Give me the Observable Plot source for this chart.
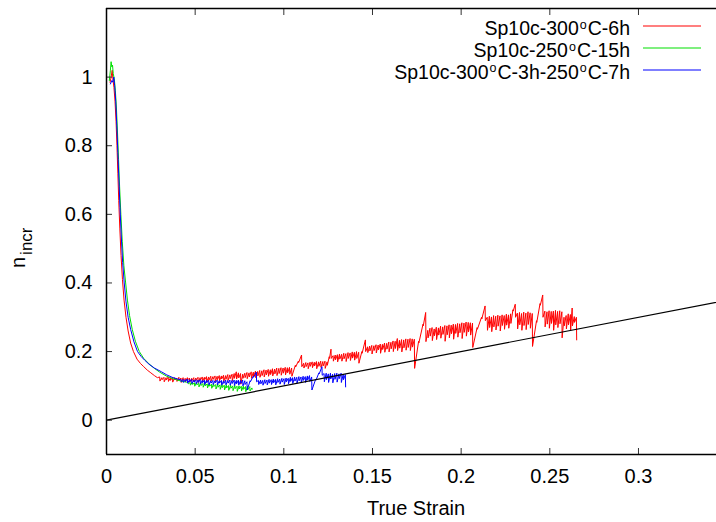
<!DOCTYPE html>
<html>
<head>
<meta charset="utf-8">
<script src="https://cdn.jsdelivr.net/npm/d3@7"></script>
<script src="https://cdn.jsdelivr.net/npm/@observablehq/plot@0.6"></script>
<style>
  html, body { margin: 0; padding: 0; background: white; overflow: hidden; }
  svg { display: block; }
</style>
</head>
<body>
<div id="chart"></div>
<script>
// ---- axes / ticks ----
const xDomain = [0, 0.344];
const yDomain = [-0.1, 1.2];
const xTicks = [0, 0.05, 0.1, 0.15, 0.2, 0.25, 0.3];
const xTickLabels = ["0", "0.05", "0.1", "0.15", "0.2", "0.25", "0.3"];
const yTicks = [0, 0.2, 0.4, 0.6, 0.8, 1];
const yTickLabels = ["0", "0.2", "0.4", "0.6", "0.8", "1"];
const xLabel = "True Strain";
const yLabelMain = "n";
const yLabelSub = "incr";

// ---- series labels (odd parts are superscripts) ----
const seriesLabels = [
  ["Sp10c-300", "o", "C-6h"],
  ["Sp10c-250", "o", "C-15h"],
  ["Sp10c-300", "o", "C-3h-250", "o", "C-7h"]
];
const seriesColors = ["#ff0000", "#00e000", "#0000ff"];

// ---- data ----
// smooth initial decay: [true strain, n_incr]
const redDecay = [
  [0.0020,0.985],[0.0026,1.00],[0.0032,1.02],[0.0036,0.995],[0.0042,0.97],[0.0048,0.93],[0.0054,0.87],
  [0.0059,0.80],[0.0064,0.72],[0.0069,0.64],[0.0075,0.56],[0.0082,0.48],[0.0090,0.41],[0.0099,0.35],
  [0.0110,0.30],[0.0122,0.26],[0.0136,0.225],[0.0152,0.20],[0.0172,0.178],[0.0192,0.165],[0.0210,0.156],
  [0.0230,0.146],[0.0250,0.138],[0.0270,0.130],[0.0287,0.124]
];
// serrated part: [true strain, n_incr before drop, n_incr after drop]
const redSerrated = [
  [0.0300,.126,.114],[0.0312,.124,.118],[0.0324,.125,.112],[0.0336,.124,.117],[0.0348,.126,.113],
  [0.0360,.123,.116],[0.0372,.125,.111],[0.0384,.124,.117],[0.0396,.123,.113],[0.0408,.125,.116],
  [0.0420,.123,.110],[0.0432,.124,.116],[0.0444,.122,.112],[0.0456,.124,.117],[0.0468,.123,.111],
  [0.0480,.122,.115],[0.0492,.124,.112],[0.0504,.123,.116],[0.0516,.125,.110],[0.0528,.124,.117],
  [0.0540,.126,.113],[0.0552,.125,.118],[0.0564,.127,.112],[0.0576,.126,.117],[0.0588,.128,.114],
  [0.0600,.127,.119],[0.0612,.129,.113],[0.0624,.128,.118],[0.0636,.130,.115],[0.0648,.129,.120],
  [0.0660,.131,.114],[0.0672,.130,.119],[0.0684,.133,.116],[0.0696,.132,.121],[0.0708,.134,.115],
  [0.0720,.136,.122],[0.0732,.141,.120],[0.0744,.138,.123],[0.0756,.136,.105],[0.0768,.134,.122],
  [0.0780,.137,.124],[0.0792,.139,.121],[0.0804,.138,.126],[0.0816,.141,.122],[0.0828,.140,.127],
  [0.0840,.143,.124],[0.0852,.142,.129],[0.0864,.145,.125],[0.0876,.144,.130],[0.0888,.147,.126],
  [0.0900,.146,.132],[0.0912,.148,.128],[0.0924,.147,.133],[0.0936,.150,.129],[0.0948,.149,.135],
  [0.0960,.152,.130],[0.0972,.151,.136],[0.0984,.153,.131],[0.0996,.152,.137],[0.1008,.154,.132],
  [0.1020,.153,.138],[0.1032,.154,.134],[0.1044,.152,.128],
  [0.1065,.160,.155],[0.1082,.172,.168],[0.1100,.190,.156],
  [0.1112,.166,.152],[0.1124,.168,.156],[0.1136,.167,.150],[0.1148,.169,.157],[0.1160,.170,.153],
  [0.1172,.169,.158],[0.1184,.171,.150],[0.1196,.170,.157],[0.1208,.172,.154],[0.1220,.171,.158],
  [0.1232,.172,.151],[0.1244,.170,.160],
  [0.1256,.185,.180],[0.1266,.207,.180],
  [0.1278,.188,.172],[0.1290,.190,.176],[0.1302,.191,.170],[0.1314,.193,.178],[0.1326,.192,.172],
  [0.1338,.195,.179],[0.1350,.194,.171],[0.1362,.197,.180],[0.1374,.196,.174],[0.1386,.199,.181],
  [0.1398,.198,.175],[0.1410,.200,.180],[0.1422,.198,.166],
  [0.1440,.200,.195],[0.1460,.234,.200],
  [0.1472,.214,.197],[0.1484,.216,.202],[0.1496,.218,.193],[0.1508,.217,.203],[0.1520,.220,.196],
  [0.1532,.219,.205],[0.1544,.222,.195],[0.1556,.221,.206],[0.1568,.225,.198],[0.1580,.224,.207],
  [0.1592,.228,.199],[0.1604,.227,.208],[0.1616,.231,.200],[0.1628,.230,.209],[0.1640,.238,.203],
  [0.1652,.233,.210],[0.1664,.235,.199],[0.1676,.234,.211],[0.1688,.237,.204],[0.1700,.236,.212],
  [0.1712,.238,.203],[0.1724,.237,.213],[0.1736,.236,.151],
  [0.1760,.230,.225],[0.1785,.280,.275],[0.1800,.314,.229],
  [0.1812,.262,.240],[0.1824,.268,.245],[0.1836,.270,.232],[0.1848,.266,.246],[0.1860,.271,.235],
  [0.1872,.269,.248],[0.1884,.274,.239],[0.1896,.272,.250],[0.1908,.276,.230],[0.1920,.275,.249],
  [0.1932,.278,.240],[0.1944,.277,.252],[0.1956,.280,.236],[0.1968,.279,.253],[0.1980,.282,.242],
  [0.1992,.281,.255],[0.2004,.284,.238],[0.2016,.283,.256],[0.2028,.286,.245],[0.2040,.285,.257],
  [0.2052,.284,.248],[0.2064,.283,.212],
  [0.2090,.270,.265],[0.2115,.300,.295],[0.2135,.333,.290],
  [0.2147,.300,.262],[0.2159,.303,.270],[0.2171,.301,.258],[0.2183,.305,.272],[0.2195,.303,.263],
  [0.2207,.306,.274],[0.2219,.304,.260],[0.2231,.307,.276],[0.2243,.305,.265],[0.2255,.309,.277],
  [0.2267,.307,.268],[0.2279,.310,.282],
  [0.2292,.322,.318],[0.2305,.338,.300],
  [0.2317,.312,.266],[0.2329,.314,.278],[0.2341,.311,.262],[0.2353,.315,.276],[0.2365,.312,.264],
  [0.2377,.316,.279],[0.2389,.313,.268],[0.2401,.311,.215],
  [0.2425,.290,.285],[0.2445,.340,.335],[0.2460,.365,.300],
  [0.2472,.318,.272],[0.2484,.316,.280],[0.2496,.319,.268],[0.2508,.317,.282],[0.2520,.318,.262],
  [0.2532,.320,.278],[0.2544,.317,.270],[0.2556,.319,.281],[0.2568,.316,.240],[0.2580,.300,.275],
  [0.2592,.305,.266],[0.2604,.310,.278],[0.2616,.308,.262],[0.2626,.327,.275],[0.2638,.302,.285],
  [0.2650,.300,.234]
];

const greenDecay = [
  [0.0016,0.99],[0.0022,1.02],[0.0026,1.045],[0.0030,1.03],[0.0034,1.035],[0.0038,1.01],[0.0044,0.995],
  [0.0050,0.96],[0.0056,0.91],[0.0062,0.84],[0.0068,0.76],[0.0074,0.68],[0.0081,0.60],[0.0089,0.52],
  [0.0098,0.45],[0.0108,0.40],[0.0118,0.35],[0.0130,0.305],[0.0145,0.265],[0.0163,0.230],[0.0185,0.200],
  [0.0210,0.180],[0.0240,0.164],[0.0270,0.151],[0.0300,0.140],[0.0340,0.128],[0.0380,0.120],[0.0420,0.114],
  [0.0448,0.111]
];
const greenSerrated = [
  [0.0460,.111,.106],[0.0472,.110,.102],[0.0484,.111,.104],[0.0496,.109,.099],[0.0508,.110,.103],
  [0.0520,.108,.097],[0.0532,.109,.101],[0.0544,.107,.096],[0.0556,.108,.100],[0.0568,.106,.094],
  [0.0580,.107,.099],[0.0592,.105,.093],[0.0604,.106,.098],[0.0616,.104,.091],[0.0628,.105,.096],
  [0.0640,.103,.090],[0.0652,.104,.095],[0.0664,.102,.088],[0.0676,.103,.094],[0.0688,.101,.087],
  [0.0700,.102,.093],[0.0712,.100,.086],[0.0724,.101,.092],[0.0736,.099,.084],[0.0748,.100,.091],
  [0.0760,.099,.085],[0.0772,.100,.090],[0.0784,.098,.083],[0.0796,.099,.089],[0.0808,.098,.085],
  [0.0820,.094,.090]
];

const blueDecay = [
  [0.0022,0.98],[0.0030,0.99],[0.0036,0.985],[0.0041,1.0],[0.0046,0.975],[0.0052,0.93],[0.0058,0.86],
  [0.0064,0.78],[0.0070,0.70],[0.0076,0.62],[0.0083,0.54],[0.0091,0.46],[0.0100,0.40],[0.0110,0.345],
  [0.0122,0.30],[0.0136,0.265],[0.0155,0.228],[0.0175,0.200],[0.0195,0.186],[0.0215,0.175],[0.0240,0.163],
  [0.0270,0.152],[0.0310,0.141],[0.0340,0.132],[0.0370,0.125],[0.0400,0.120]
];
const blueSerrated = [
  [0.0420,.118,.112],[0.0432,.119,.110],[0.0444,.118,.113],[0.0456,.120,.108],[0.0468,.118,.112],
  [0.0480,.119,.107],[0.0492,.117,.111],[0.0504,.118,.106],[0.0516,.117,.110],[0.0528,.118,.105],
  [0.0540,.116,.109],[0.0552,.117,.104],[0.0564,.116,.109],[0.0576,.117,.103],[0.0588,.115,.108],
  [0.0600,.116,.104],[0.0612,.115,.109],[0.0624,.117,.103],[0.0636,.115,.108],[0.0648,.116,.102],
  [0.0660,.115,.107],[0.0672,.117,.103],[0.0684,.116,.108],[0.0696,.117,.102],[0.0708,.116,.107],
  [0.0720,.117,.101],[0.0732,.116,.106],[0.0744,.117,.102],[0.0756,.116,.107],[0.0768,.117,.100],
  [0.0780,.115,.104],[0.0792,.112,.088],
  [0.0810,.115,.112],[0.0828,.128,.125],[0.0845,.140,.112],
  [0.0857,.116,.104],[0.0869,.117,.106],[0.0881,.116,.102],[0.0893,.118,.107],[0.0905,.117,.103],
  [0.0917,.119,.108],[0.0929,.118,.104],[0.0941,.120,.109],[0.0953,.119,.103],[0.0965,.121,.110],
  [0.0977,.120,.105],[0.0989,.122,.111],[0.1001,.121,.104],[0.1013,.123,.112],[0.1025,.122,.106],
  [0.1037,.125,.113],[0.1049,.124,.107],[0.1061,.126,.114],[0.1073,.125,.108],[0.1085,.127,.115],
  [0.1097,.126,.109],[0.1109,.128,.116],[0.1121,.127,.110],[0.1133,.129,.117],[0.1145,.130,.113],
  [0.1157,.126,.088],
  [0.1180,.120,.117],[0.1198,.138,.135],[0.1215,.156,.131],
  [0.1227,.136,.112],[0.1239,.137,.118],[0.1251,.135,.110],[0.1263,.137,.120],[0.1275,.134,.109],
  [0.1287,.136,.119],[0.1299,.137,.111],[0.1311,.135,.121],[0.1323,.137,.110],[0.1335,.134,.118],
  [0.1347,.133,.097]
];

// reference line n = true strain
const diagonal = [[0, 0], [0.36, 0.36]];

// build line tables: each serration = value before the drop, then the value just after it
function toLine(decay, serrated) {
  const pts = decay.map(d => ({x: d[0], y: d[1]}));
  for (const [x, top, bottom] of serrated) {
    pts.push({x, y: top});
    if (bottom !== top) pts.push({x: x + 0.00015, y: bottom});
  }
  return pts;
}
const series = [toLine(redDecay, redSerrated), toLine(greenDecay, greenSerrated), toLine(blueDecay, blueSerrated)];

const FONT = "'Liberation Sans', Arial, Helvetica, sans-serif";

const chart = Plot.plot({
  width: 716,
  height: 522,
  marginLeft: 106,
  marginRight: 0,
  marginTop: 8,
  marginBottom: 68,
  style: {fontFamily: FONT, fontSize: "20px", color: "black", background: "white", overflow: "visible"},
  x: {domain: xDomain},
  y: {domain: yDomain},
  marks: [
    ...series.map((s, i) => Plot.line(s, {x: "x", y: "y", stroke: seriesColors[i], strokeWidth: 1, clip: true})),
    Plot.line(diagonal, {x: d => d[0], y: d => d[1], stroke: "black", strokeWidth: 1.2, clip: true}),
    Plot.axisX(xTicks, {anchor: "bottom", tickSize: -6, tickPadding: 20, stroke: "#333",
      tickFormat: d => xTickLabels[xTicks.indexOf(d)], label: null, fontSize: 20}),
    Plot.axisX(xTicks, {anchor: "top", tickSize: -6, stroke: "#333", tickFormat: () => "", label: null}),
    Plot.axisY(yTicks, {anchor: "left", tickSize: -6, tickPadding: 20, stroke: "#333",
      tickFormat: d => yTickLabels[yTicks.indexOf(d)], label: null, fontSize: 20}),
    Plot.ruleX([xDomain[0]], {stroke: "black", strokeWidth: 1.5}),
    Plot.ruleY(yDomain, {stroke: "black", strokeWidth: 1.5})
  ]
});

document.getElementById("chart").appendChild(chart);

// ---- labels and legend ----
const svg = d3.select(chart);

svg.append("text")
  .attr("x", 416).attr("y", 515)
  .attr("text-anchor", "middle")
  .attr("font-family", FONT).attr("font-size", 20).attr("fill", "black")
  .text(xLabel);

const yl = svg.append("text")
  .attr("transform", "translate(25,268) rotate(-90)")
  .attr("text-anchor", "start")
  .attr("font-family", FONT).attr("font-size", 20).attr("fill", "black");
yl.append("tspan").text(yLabelMain);
yl.append("tspan").attr("font-size", 17).attr("dy", 7).attr("dx", 2).text(yLabelSub);

// legend: parts laid out right-to-left as separate texts so the superscripts sit beside their neighbours
const legend = svg.append("g").attr("font-family", FONT).attr("fill", "black");
seriesLabels.forEach((parts, i) => {
  const ly = 25.7 + i * 21.9;
  let right = 630;
  for (let j = parts.length - 1; j >= 0; j--) {
    const sup = j % 2 === 1;
    const t = legend.append("text")
      .attr("x", right).attr("y", ly + 9.3 - (sup ? 6.4 : 0))
      .attr("text-anchor", "end")
      .attr("font-size", sup ? 12.5 : 19.5)
      .text(parts[j]);
    right -= t.node().getComputedTextLength() + 1;
  }
  // sample line straddles two pixel rows, as in the reference
  const lineY = Math.round(ly);
  legend.append("line")
    .attr("x1", 643).attr("x2", 701).attr("y1", lineY).attr("y2", lineY)
    .attr("stroke", seriesColors[i]).attr("stroke-width", 1.2);
});
</script>
</body>
</html>
